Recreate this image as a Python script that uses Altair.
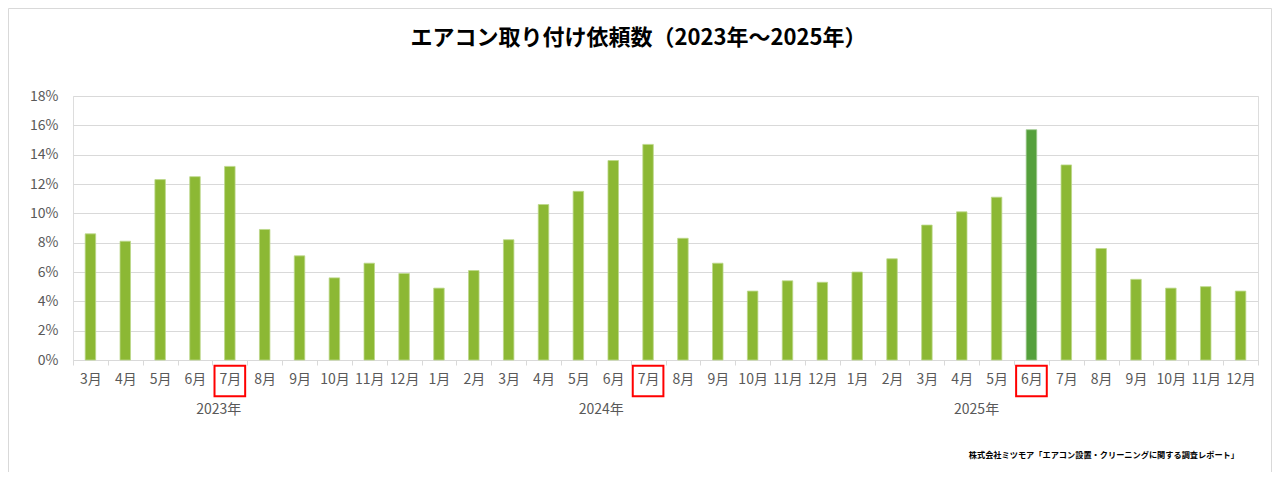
import altair as alt
import pandas as pd

years = ["2023"] * 10 + ["2024"] * 12 + ["2025"] * 12
months = (["3月", "4月", "5月", "6月", "7月", "8月", "9月", "10月", "11月", "12月"]
          + ["1月", "2月", "3月", "4月", "5月", "6月", "7月", "8月", "9月", "10月", "11月", "12月"] * 2)
values = [8.6, 8.1, 12.3, 12.5, 13.2, 8.9, 7.1, 5.6, 6.6, 5.9,
          4.9, 6.1, 8.2, 10.6, 11.5, 13.6, 14.7, 8.3, 6.6, 4.7, 5.4, 5.3,
          6.0, 6.9, 9.2, 10.1, 11.1, 15.7, 13.3, 7.6, 5.5, 4.9, 5.0, 4.7]
highlight_key = "2025|6月"
boxed_keys = ["2023|7月", "2024|7月", "2025|6月"]
year_labels = ["2023年", "2024年", "2025年"]
year_anchor = ["2023|7月", "2024|6月", "2025|5月"]
year_dx = [-11, -12, -20]
y_ticks = [0, 2, 4, 6, 8, 10, 12, 14, 16, 18]
title_text = "エアコン取り付け依頼数（2023年～2025年）"
source_text = "株式会社ミツモア「エアコン設置・クリーニングに関する調査レポート」"

keys = [f"{y}|{m}" for y, m in zip(years, months)]
df = pd.DataFrame({"key": keys, "v": values,
                   "hl": ["hl" if k == highlight_key else "base" for k in keys]})

FONT = "Noto Sans CJK JP"
W, H = 1185, 264
PAD_L, PAD_T, PAD_R, PAD_B = 65, 88, 14, 112

xenc = alt.X("key:N", sort=keys, title=None,
             scale=alt.Scale(paddingInner=0, paddingOuter=0),
             axis=alt.Axis(labelExpr="split(datum.value, '|')[1]", labelAngle=0,
                           tickBand="extent", tickSize=5, tickColor="#D9D9D9",
                           domainColor="#D9D9D9", labelFontSize=14, labelColor="#595959",
                           labelFont=FONT, labelPadding=7, grid=False))

frame = alt.Chart(pd.DataFrame({"a": [0]})).mark_rect(
    fillOpacity=0, stroke="#D9D9D9", strokeWidth=1
).encode(x=alt.value(-PAD_L + 0.5), x2=alt.value(W + PAD_R - 0.5),
         y=alt.value(-PAD_T + 0.5), y2=alt.value(H + PAD_B + 20))

title = alt.Chart(pd.DataFrame({"t": [title_text]})).mark_text(
    align="center", baseline="middle", fontSize=22, fontWeight="bold", font=FONT, color="#000000"
).encode(x=alt.value(W / 2 - 27), y=alt.value(-58), text="t:N")

bars = alt.Chart(df).mark_bar(size=10.5, strokeWidth=0.8).encode(
    x=xenc,
    y=alt.Y("v:Q", title=None, scale=alt.Scale(domain=[0, 18], nice=False),
            axis=alt.Axis(values=y_ticks, labelExpr="datum.value + '%'",
                          grid=True, gridColor="#D9D9D9", domain=False, ticks=False,
                          labelPadding=15, labelFontSize=14, labelColor="#595959",
                          labelFont=FONT)),
    color=alt.Color("hl:N", legend=None,
                    scale=alt.Scale(domain=["base", "hl"], range=["#8CB834", "#55A03C"])),
    stroke=alt.Stroke("hl:N", legend=None,
                      scale=alt.Scale(domain=["base", "hl"], range=["#BCD88A", "#9CC88C"])),
)

boxes = alt.Chart(pd.DataFrame({"key": boxed_keys})).mark_point(
    shape="square", size=940, filled=False, color="#FF0000", strokeWidth=2, opacity=1
).encode(x=alt.X("key:N", sort=keys), y=alt.value(H + 21))

layers = [frame, title, bars, boxes]
for lab, anc, dx in zip(year_labels, year_anchor, year_dx):
    layers.append(
        alt.Chart(pd.DataFrame({"key": [anc], "t": [lab]})).mark_text(
            dx=dx, fontSize=14, font=FONT, color="#595959", baseline="middle"
        ).encode(x=alt.X("key:N", sort=keys), y=alt.value(H + 50), text="t:N")
    )

source = alt.Chart(pd.DataFrame({"t": [source_text]})).mark_text(
    align="right", baseline="middle", fontSize=8.2, fontWeight="bold", font=FONT, color="#000000"
).encode(x=alt.value(W - 19), y=alt.value(H + 96), text="t:N")
layers.append(source)

chart = alt.layer(*layers).properties(
    width=W, height=H,
    autosize=alt.AutoSizeParams(type="none"),
    padding={"left": PAD_L, "top": PAD_T, "right": PAD_R, "bottom": PAD_B},
).configure_view(stroke=None).configure(background="white")

chart.save("out.html", embed_options={"renderer": "svg", "actions": False})
